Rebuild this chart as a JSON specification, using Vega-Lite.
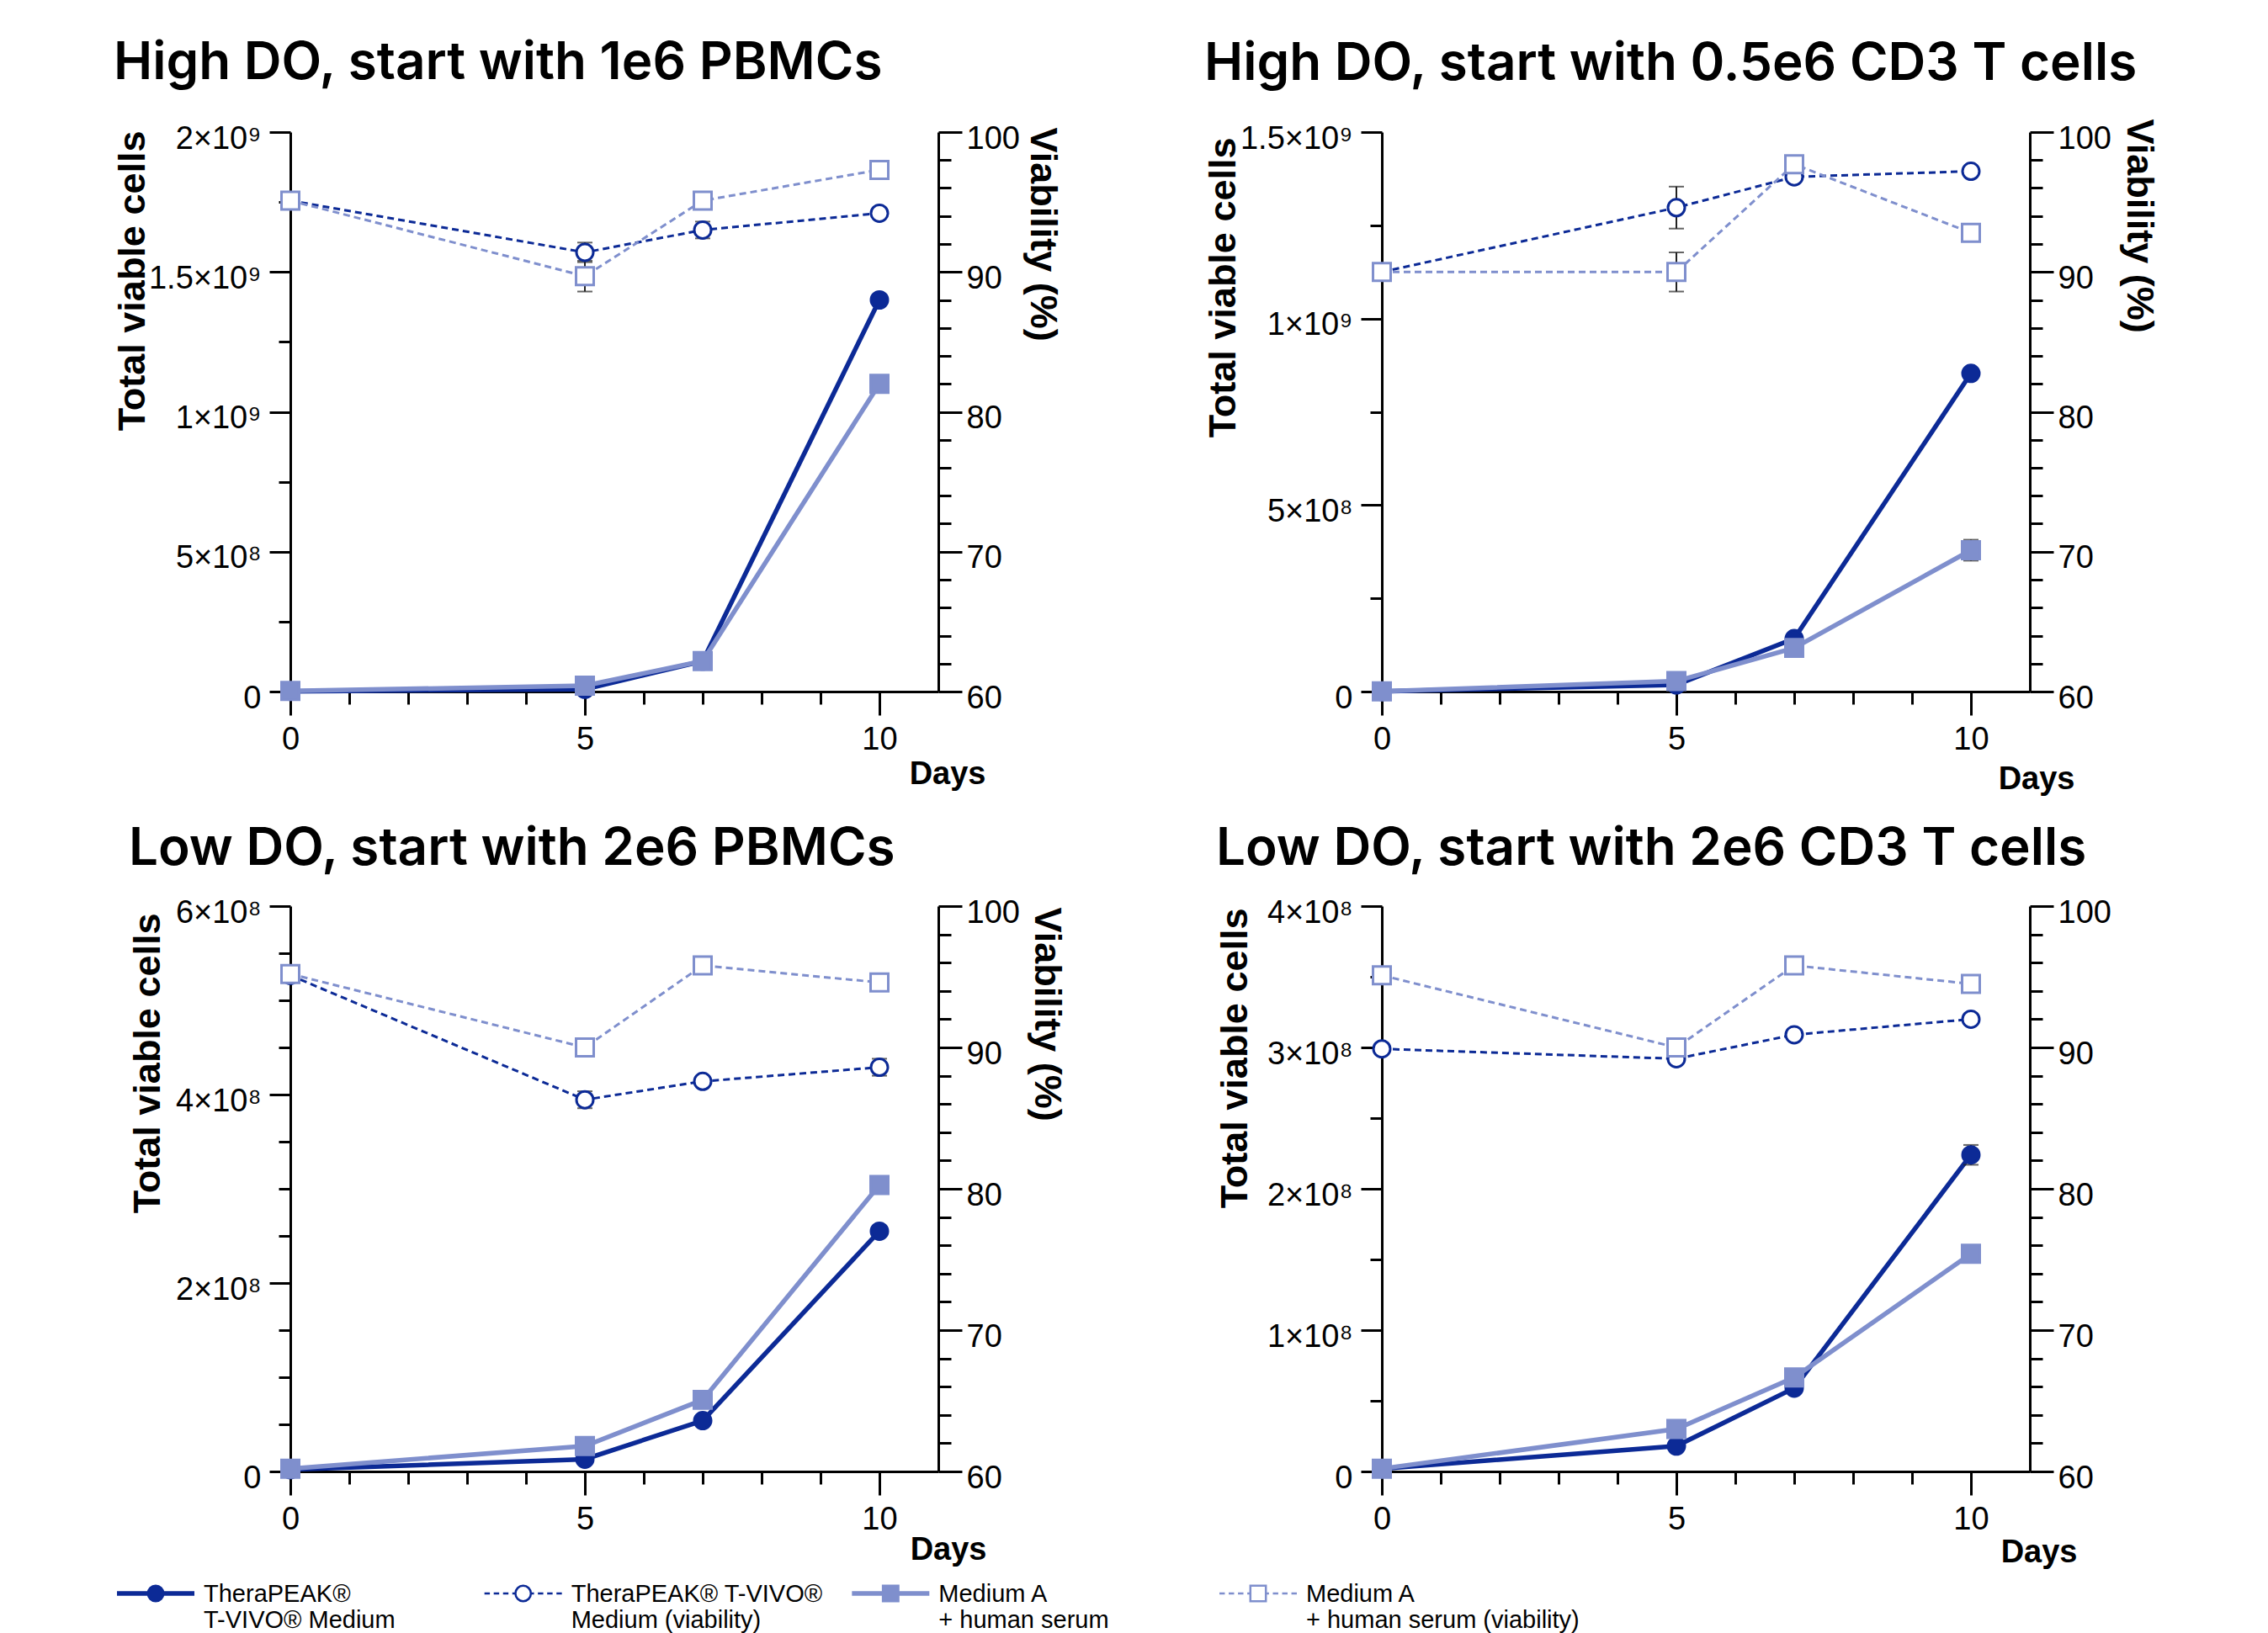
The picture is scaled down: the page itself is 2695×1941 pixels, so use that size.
{
  "$schema": "https://vega.github.io/schema/vega-lite/v6.json",
  "padding": {"left": 134, "top": 44, "right": 0, "bottom": 0},
  "background": "white",
  "datasets": {
    "growth": [
      {"p": 1, "s": "TheraPEAK® T-VIVO® Medium", "m": "cells", "d": 0, "v": 1000000},
      {"p": 1, "s": "TheraPEAK® T-VIVO® Medium", "m": "cells", "d": 5, "v": 8000000},
      {"p": 1, "s": "TheraPEAK® T-VIVO® Medium", "m": "cells", "d": 7, "v": 109000000},
      {"p": 1, "s": "TheraPEAK® T-VIVO® Medium", "m": "cells", "d": 10, "v": 1400000000},
      {"p": 1, "s": "Medium A + human serum", "m": "cells", "d": 0, "v": 2000000},
      {"p": 1, "s": "Medium A + human serum", "m": "cells", "d": 5, "v": 21000000},
      {"p": 1, "s": "Medium A + human serum", "m": "cells", "d": 7, "v": 109000000},
      {"p": 1, "s": "Medium A + human serum", "m": "cells", "d": 10, "v": 1100000000},
      {"p": 1, "s": "TheraPEAK® T-VIVO® Medium (viability)", "m": "viab", "d": 0, "v": 95.1},
      {"p": 1, "s": "TheraPEAK® T-VIVO® Medium (viability)", "m": "viab", "d": 5, "v": 91.4, "lo": 90.7, "hi": 92.1},
      {"p": 1, "s": "TheraPEAK® T-VIVO® Medium (viability)", "m": "viab", "d": 7, "v": 93.0, "lo": 92.4, "hi": 93.6},
      {"p": 1, "s": "TheraPEAK® T-VIVO® Medium (viability)", "m": "viab", "d": 10, "v": 94.2},
      {"p": 1, "s": "Medium A + human serum (viability)", "m": "viab", "d": 0, "v": 95.1},
      {"p": 1, "s": "Medium A + human serum (viability)", "m": "viab", "d": 5, "v": 89.7, "lo": 88.6, "hi": 90.8},
      {"p": 1, "s": "Medium A + human serum (viability)", "m": "viab", "d": 7, "v": 95.1},
      {"p": 1, "s": "Medium A + human serum (viability)", "m": "viab", "d": 10, "v": 97.3},

      {"p": 2, "s": "TheraPEAK® T-VIVO® Medium", "m": "cells", "d": 0, "v": 500000},
      {"p": 2, "s": "TheraPEAK® T-VIVO® Medium", "m": "cells", "d": 5, "v": 18000000},
      {"p": 2, "s": "TheraPEAK® T-VIVO® Medium", "m": "cells", "d": 7, "v": 142000000},
      {"p": 2, "s": "TheraPEAK® T-VIVO® Medium", "m": "cells", "d": 10, "v": 853000000},
      {"p": 2, "s": "Medium A + human serum", "m": "cells", "d": 0, "v": 500000},
      {"p": 2, "s": "Medium A + human serum", "m": "cells", "d": 5, "v": 28000000},
      {"p": 2, "s": "Medium A + human serum", "m": "cells", "d": 7, "v": 117000000},
      {"p": 2, "s": "Medium A + human serum", "m": "cells", "d": 10, "v": 379000000, "lo": 351000000, "hi": 407000000},
      {"p": 2, "s": "TheraPEAK® T-VIVO® Medium (viability)", "m": "viab", "d": 0, "v": 90.0},
      {"p": 2, "s": "TheraPEAK® T-VIVO® Medium (viability)", "m": "viab", "d": 5, "v": 94.6, "lo": 93.1, "hi": 96.1},
      {"p": 2, "s": "TheraPEAK® T-VIVO® Medium (viability)", "m": "viab", "d": 7, "v": 96.8},
      {"p": 2, "s": "TheraPEAK® T-VIVO® Medium (viability)", "m": "viab", "d": 10, "v": 97.2},
      {"p": 2, "s": "Medium A + human serum (viability)", "m": "viab", "d": 0, "v": 90.0},
      {"p": 2, "s": "Medium A + human serum (viability)", "m": "viab", "d": 5, "v": 90.0, "lo": 88.6, "hi": 91.4},
      {"p": 2, "s": "Medium A + human serum (viability)", "m": "viab", "d": 7, "v": 97.7},
      {"p": 2, "s": "Medium A + human serum (viability)", "m": "viab", "d": 10, "v": 92.8},

      {"p": 3, "s": "TheraPEAK® T-VIVO® Medium", "m": "cells", "d": 0, "v": 2000000},
      {"p": 3, "s": "TheraPEAK® T-VIVO® Medium", "m": "cells", "d": 5, "v": 13000000},
      {"p": 3, "s": "TheraPEAK® T-VIVO® Medium", "m": "cells", "d": 7, "v": 54000000},
      {"p": 3, "s": "TheraPEAK® T-VIVO® Medium", "m": "cells", "d": 10, "v": 255000000},
      {"p": 3, "s": "Medium A + human serum", "m": "cells", "d": 0, "v": 3000000},
      {"p": 3, "s": "Medium A + human serum", "m": "cells", "d": 5, "v": 27000000},
      {"p": 3, "s": "Medium A + human serum", "m": "cells", "d": 7, "v": 76000000},
      {"p": 3, "s": "Medium A + human serum", "m": "cells", "d": 10, "v": 304000000},
      {"p": 3, "s": "TheraPEAK® T-VIVO® Medium (viability)", "m": "viab", "d": 0, "v": 95.1},
      {"p": 3, "s": "TheraPEAK® T-VIVO® Medium (viability)", "m": "viab", "d": 5, "v": 86.3, "lo": 85.7, "hi": 86.9},
      {"p": 3, "s": "TheraPEAK® T-VIVO® Medium (viability)", "m": "viab", "d": 7, "v": 87.6},
      {"p": 3, "s": "TheraPEAK® T-VIVO® Medium (viability)", "m": "viab", "d": 10, "v": 88.6, "lo": 88.0, "hi": 89.2},
      {"p": 3, "s": "Medium A + human serum (viability)", "m": "viab", "d": 0, "v": 95.2},
      {"p": 3, "s": "Medium A + human serum (viability)", "m": "viab", "d": 5, "v": 90.0},
      {"p": 3, "s": "Medium A + human serum (viability)", "m": "viab", "d": 7, "v": 95.8},
      {"p": 3, "s": "Medium A + human serum (viability)", "m": "viab", "d": 10, "v": 94.6},

      {"p": 4, "s": "TheraPEAK® T-VIVO® Medium", "m": "cells", "d": 0, "v": 2000000},
      {"p": 4, "s": "TheraPEAK® T-VIVO® Medium", "m": "cells", "d": 5, "v": 18000000},
      {"p": 4, "s": "TheraPEAK® T-VIVO® Medium", "m": "cells", "d": 7, "v": 59000000},
      {"p": 4, "s": "TheraPEAK® T-VIVO® Medium", "m": "cells", "d": 10, "v": 224000000, "lo": 217000000, "hi": 231000000},
      {"p": 4, "s": "Medium A + human serum", "m": "cells", "d": 0, "v": 2000000},
      {"p": 4, "s": "Medium A + human serum", "m": "cells", "d": 5, "v": 30000000},
      {"p": 4, "s": "Medium A + human serum", "m": "cells", "d": 7, "v": 66500000},
      {"p": 4, "s": "Medium A + human serum", "m": "cells", "d": 10, "v": 154000000, "lo": 148000000, "hi": 160000000},
      {"p": 4, "s": "TheraPEAK® T-VIVO® Medium (viability)", "m": "viab", "d": 0, "v": 89.9},
      {"p": 4, "s": "TheraPEAK® T-VIVO® Medium (viability)", "m": "viab", "d": 5, "v": 89.2},
      {"p": 4, "s": "TheraPEAK® T-VIVO® Medium (viability)", "m": "viab", "d": 7, "v": 90.9},
      {"p": 4, "s": "TheraPEAK® T-VIVO® Medium (viability)", "m": "viab", "d": 10, "v": 92.0},
      {"p": 4, "s": "Medium A + human serum (viability)", "m": "viab", "d": 0, "v": 95.1},
      {"p": 4, "s": "Medium A + human serum (viability)", "m": "viab", "d": 5, "v": 90.0},
      {"p": 4, "s": "Medium A + human serum (viability)", "m": "viab", "d": 7, "v": 95.8},
      {"p": 4, "s": "Medium A + human serum (viability)", "m": "viab", "d": 10, "v": 94.5}
    ]
  },
  "data": {"name": "growth"},
  "spacing": 0,
  "vconcat": [
    {
      "bounds": "flush",
      "columns": 2,
      "spacing": {"row": 255, "column": 527},
      "concat": [
        {
          "width": 770, "height": 665,
          "title": {"text": "High DO, start with 1e6 PBMCs", "offset": 39},
          "transform": [{"filter": "datum.p === 1"}],
          "encoding": {
            "x": {"field": "d", "type": "quantitative", "scale": {"domain": [0, 11], "nice": false},
              "axis": {"values": [0, 1, 2, 3, 4, 5, 6, 7, 8, 9, 10], "labelExpr": "datum.value % 5 === 0 ? datum.label : ''",
                "tickSize": {"condition": {"test": "datum.value % 5 === 0", "value": 28}, "value": 15}, "labelPadding": 10,
                "title": "Days", "titleX": 826, "titleY": 98, "titleAlign": "right", "titleBaseline": "middle", "titleFontSize": 38}}
          },
          "layer": [
            {
              "transform": [{"filter": "datum.m === 'cells'"}],
              "encoding": {"y": {"field": "v", "type": "quantitative", "scale": {"domain": [0, 2000000000], "nice": false},
                "axis": {"orient": "left", "values": [0, 250000000, 500000000, 750000000, 1000000000, 1250000000, 1500000000, 1750000000, 2000000000],
                  "labelExpr": "datum.value === 0 ? '0' : datum.value % 500000000 !== 0 ? '' : format(datum.value / pow(10, floor(log(datum.value) / LN10 + 1e-9)), '~g') + '×10' + (floor(log(datum.value) / LN10 + 1e-9) === 9 ? '⁹' : '⁸')",
                  "tickSize": {"condition": {"test": "datum.value % 500000000 === 0", "value": 25}, "value": 14}, "labelPadding": 10, "labelOffset": 8,
                  "title": "Total viable cells", "titleAngle": 270, "titleX": -188, "titleY": -2, "titleAlign": "right", "titleBaseline": "middle", "titleFontSize": 45}}},
              "layer": [
                {"mark": {"type": "line", "strokeWidth": 5.5},
                  "encoding": {"stroke": {"field": "s", "type": "nominal", "legend": null, "scale": {"domain": ["TheraPEAK® T-VIVO® Medium", "TheraPEAK® T-VIVO® Medium (viability)", "Medium A + human serum", "Medium A + human serum (viability)"], "range": ["#0c2a96", "#0c2a96", "#7f8fcd", "#7f8fcd"]}}}},
                {"transform": [{"filter": "isValid(datum.lo)"}],
                  "mark": {"type": "errorbar", "color": "#222", "thickness": 2, "ticks": {"size": 18, "thickness": 2}},
                  "encoding": {"y": {"field": "lo", "type": "quantitative"}, "y2": {"field": "hi"}}},
                {"transform": [{"filter": "substring(datum.s, 0, 5) === 'Thera'"}],
                  "mark": {"type": "point", "shape": "circle", "size": 400, "strokeWidth": 3, "opacity": 1, "filled": true},
                  "encoding": {"fill": {"field": "s", "type": "nominal", "legend": null, "scale": {"domain": ["TheraPEAK® T-VIVO® Medium", "TheraPEAK® T-VIVO® Medium (viability)", "Medium A + human serum", "Medium A + human serum (viability)"], "range": ["#0c2a96", "#ffffff", "#7f8fcd", "#ffffff"]}},
                    "stroke": {"field": "s", "type": "nominal", "legend": null}}},
                {"transform": [{"filter": "substring(datum.s, 0, 5) === 'Mediu'"}],
                  "mark": {"type": "point", "shape": "square", "size": 440, "strokeWidth": 3, "opacity": 1, "filled": true},
                  "encoding": {"fill": {"field": "s", "type": "nominal", "legend": null}, "stroke": {"field": "s", "type": "nominal", "legend": null}}}
              ]
            },
            {
              "transform": [{"filter": "datum.m === 'viab'"}],
              "encoding": {"y": {"field": "v", "type": "quantitative", "scale": {"domain": [60, 100], "nice": false, "zero": false},
                "axis": {"orient": "right", "values": [60, 62, 64, 66, 68, 70, 72, 74, 76, 78, 80, 82, 84, 86, 88, 90, 92, 94, 96, 98, 100],
                  "labelExpr": "datum.value % 10 === 0 ? datum.label : ''",
                  "tickSize": {"condition": {"test": "datum.value % 10 === 0", "value": 28}, "value": 15}, "labelPadding": 5, "labelOffset": 8,
                  "title": "Viability (%)", "titleAngle": 90, "titleX": 123, "titleY": -6, "titleAlign": "left", "titleBaseline": "middle", "titleFontSize": 45}}},
              "layer": [
                {"mark": {"type": "line", "strokeWidth": 3, "strokeDash": [8, 5]},
                  "encoding": {"stroke": {"field": "s", "type": "nominal", "legend": null}}},
                {"transform": [{"filter": "isValid(datum.lo)"}],
                  "mark": {"type": "errorbar", "color": "#222", "thickness": 2, "ticks": {"size": 18, "thickness": 2}},
                  "encoding": {"y": {"field": "lo", "type": "quantitative"}, "y2": {"field": "hi"}}},
                {"transform": [{"filter": "substring(datum.s, 0, 5) === 'Thera'"}],
                  "mark": {"type": "point", "shape": "circle", "size": 400, "strokeWidth": 3, "opacity": 1, "filled": true},
                  "encoding": {"fill": {"field": "s", "type": "nominal", "legend": null}, "stroke": {"field": "s", "type": "nominal", "legend": null}}},
                {"transform": [{"filter": "substring(datum.s, 0, 5) === 'Mediu'"}],
                  "mark": {"type": "point", "shape": "square", "size": 440, "strokeWidth": 3, "opacity": 1, "filled": true},
                  "encoding": {"fill": {"field": "s", "type": "nominal", "legend": null}, "stroke": {"field": "s", "type": "nominal", "legend": null}}}
              ]
            }
          ],
          "resolve": {"scale": {"y": "independent"}}
        },
        {
          "width": 770, "height": 665,
          "title": {"text": "High DO, start with 0.5e6 CD3 T cells", "offset": 33},
          "transform": [{"filter": "datum.p === 2"}],
          "encoding": {
            "x": {"field": "d", "type": "quantitative", "scale": {"domain": [0, 11], "nice": false},
              "axis": {"values": [0, 1, 2, 3, 4, 5, 6, 7, 8, 9, 10], "labelExpr": "datum.value % 5 === 0 ? datum.label : ''",
                "tickSize": {"condition": {"test": "datum.value % 5 === 0", "value": 28}, "value": 15}, "labelPadding": 10,
                "title": "Days", "titleX": 823, "titleY": 104, "titleAlign": "right", "titleBaseline": "middle", "titleFontSize": 38}}
          },
          "layer": [
            {
              "transform": [{"filter": "datum.m === 'cells'"}],
              "encoding": {"y": {"field": "v", "type": "quantitative", "scale": {"domain": [0, 1500000000], "nice": false},
                "axis": {"orient": "left", "values": [0, 250000000, 500000000, 750000000, 1000000000, 1250000000, 1500000000],
                  "labelExpr": "datum.value === 0 ? '0' : datum.value % 500000000 !== 0 ? '' : format(datum.value / pow(10, floor(log(datum.value) / LN10 + 1e-9)), '~g') + '×10' + (floor(log(datum.value) / LN10 + 1e-9) === 9 ? '⁹' : '⁸')",
                  "tickSize": {"condition": {"test": "datum.value % 500000000 === 0", "value": 25}, "value": 14}, "labelPadding": 10, "labelOffset": 8,
                  "title": "Total viable cells", "titleAngle": 270, "titleX": -189, "titleY": 6, "titleAlign": "right", "titleBaseline": "middle", "titleFontSize": 45}}},
              "layer": [
                {"mark": {"type": "line", "strokeWidth": 5.5},
                  "encoding": {"stroke": {"field": "s", "type": "nominal", "legend": null}}},
                {"transform": [{"filter": "isValid(datum.lo)"}],
                  "mark": {"type": "errorbar", "color": "#222", "thickness": 2, "ticks": {"size": 18, "thickness": 2}},
                  "encoding": {"y": {"field": "lo", "type": "quantitative"}, "y2": {"field": "hi"}}},
                {"transform": [{"filter": "substring(datum.s, 0, 5) === 'Thera'"}],
                  "mark": {"type": "point", "shape": "circle", "size": 400, "strokeWidth": 3, "opacity": 1, "filled": true},
                  "encoding": {"fill": {"field": "s", "type": "nominal", "legend": null}, "stroke": {"field": "s", "type": "nominal", "legend": null}}},
                {"transform": [{"filter": "substring(datum.s, 0, 5) === 'Mediu'"}],
                  "mark": {"type": "point", "shape": "square", "size": 440, "strokeWidth": 3, "opacity": 1, "filled": true},
                  "encoding": {"fill": {"field": "s", "type": "nominal", "legend": null}, "stroke": {"field": "s", "type": "nominal", "legend": null}}}
              ]
            },
            {
              "transform": [{"filter": "datum.m === 'viab'"}],
              "encoding": {"y": {"field": "v", "type": "quantitative", "scale": {"domain": [60, 100], "nice": false, "zero": false},
                "axis": {"orient": "right", "values": [60, 62, 64, 66, 68, 70, 72, 74, 76, 78, 80, 82, 84, 86, 88, 90, 92, 94, 96, 98, 100],
                  "labelExpr": "datum.value % 10 === 0 ? datum.label : ''",
                  "tickSize": {"condition": {"test": "datum.value % 10 === 0", "value": 28}, "value": 15}, "labelPadding": 5, "labelOffset": 8,
                  "title": "Viability (%)", "titleAngle": 90, "titleX": 129, "titleY": -16, "titleAlign": "left", "titleBaseline": "middle", "titleFontSize": 45}}},
              "layer": [
                {"mark": {"type": "line", "strokeWidth": 3, "strokeDash": [8, 5]},
                  "encoding": {"stroke": {"field": "s", "type": "nominal", "legend": null}}},
                {"transform": [{"filter": "isValid(datum.lo)"}],
                  "mark": {"type": "errorbar", "color": "#222", "thickness": 2, "ticks": {"size": 18, "thickness": 2}},
                  "encoding": {"y": {"field": "lo", "type": "quantitative"}, "y2": {"field": "hi"}}},
                {"transform": [{"filter": "substring(datum.s, 0, 5) === 'Thera'"}],
                  "mark": {"type": "point", "shape": "circle", "size": 400, "strokeWidth": 3, "opacity": 1, "filled": true},
                  "encoding": {"fill": {"field": "s", "type": "nominal", "legend": null}, "stroke": {"field": "s", "type": "nominal", "legend": null}}},
                {"transform": [{"filter": "substring(datum.s, 0, 5) === 'Mediu'"}],
                  "mark": {"type": "point", "shape": "square", "size": 440, "strokeWidth": 3, "opacity": 1, "filled": true},
                  "encoding": {"fill": {"field": "s", "type": "nominal", "legend": null}, "stroke": {"field": "s", "type": "nominal", "legend": null}}}
              ]
            }
          ],
          "resolve": {"scale": {"y": "independent"}}
        },
        {
          "width": 770, "height": 672,
          "title": {"text": "Low DO, start with 2e6 PBMCs", "offset": 25},
          "transform": [{"filter": "datum.p === 3"}],
          "encoding": {
            "x": {"field": "d", "type": "quantitative", "scale": {"domain": [0, 11], "nice": false},
              "axis": {"values": [0, 1, 2, 3, 4, 5, 6, 7, 8, 9, 10], "labelExpr": "datum.value % 5 === 0 ? datum.label : ''",
                "tickSize": {"condition": {"test": "datum.value % 5 === 0", "value": 28}, "value": 15}, "labelPadding": 10,
                "title": "Days", "titleX": 827, "titleY": 93, "titleAlign": "right", "titleBaseline": "middle", "titleFontSize": 38}}
          },
          "layer": [
            {
              "transform": [{"filter": "datum.m === 'cells'"}],
              "encoding": {"y": {"field": "v", "type": "quantitative", "scale": {"domain": [0, 600000000], "nice": false},
                "axis": {"orient": "left", "values": [0, 50000000, 100000000, 150000000, 200000000, 250000000, 300000000, 350000000, 400000000, 450000000, 500000000, 550000000, 600000000],
                  "labelExpr": "datum.value === 0 ? '0' : datum.value % 200000000 !== 0 ? '' : format(datum.value / pow(10, floor(log(datum.value) / LN10 + 1e-9)), '~g') + '×10' + (floor(log(datum.value) / LN10 + 1e-9) === 9 ? '⁹' : '⁸')",
                  "tickSize": {"condition": {"test": "datum.value % 200000000 === 0", "value": 25}, "value": 14}, "labelPadding": 10, "labelOffset": 8,
                  "title": "Total viable cells", "titleAngle": 270, "titleX": -170, "titleY": 8, "titleAlign": "right", "titleBaseline": "middle", "titleFontSize": 45}}},
              "layer": [
                {"mark": {"type": "line", "strokeWidth": 5.5},
                  "encoding": {"stroke": {"field": "s", "type": "nominal", "legend": null}}},
                {"transform": [{"filter": "isValid(datum.lo)"}],
                  "mark": {"type": "errorbar", "color": "#222", "thickness": 2, "ticks": {"size": 18, "thickness": 2}},
                  "encoding": {"y": {"field": "lo", "type": "quantitative"}, "y2": {"field": "hi"}}},
                {"transform": [{"filter": "substring(datum.s, 0, 5) === 'Thera'"}],
                  "mark": {"type": "point", "shape": "circle", "size": 400, "strokeWidth": 3, "opacity": 1, "filled": true},
                  "encoding": {"fill": {"field": "s", "type": "nominal", "legend": null}, "stroke": {"field": "s", "type": "nominal", "legend": null}}},
                {"transform": [{"filter": "substring(datum.s, 0, 5) === 'Mediu'"}],
                  "mark": {"type": "point", "shape": "square", "size": 440, "strokeWidth": 3, "opacity": 1, "filled": true},
                  "encoding": {"fill": {"field": "s", "type": "nominal", "legend": null}, "stroke": {"field": "s", "type": "nominal", "legend": null}}}
              ]
            },
            {
              "transform": [{"filter": "datum.m === 'viab'"}],
              "encoding": {"y": {"field": "v", "type": "quantitative", "scale": {"domain": [60, 100], "nice": false, "zero": false},
                "axis": {"orient": "right", "values": [60, 62, 64, 66, 68, 70, 72, 74, 76, 78, 80, 82, 84, 86, 88, 90, 92, 94, 96, 98, 100],
                  "labelExpr": "datum.value % 10 === 0 ? datum.label : ''",
                  "tickSize": {"condition": {"test": "datum.value % 10 === 0", "value": 28}, "value": 15}, "labelPadding": 5, "labelOffset": 8,
                  "title": "Viability (%)", "titleAngle": 90, "titleX": 128, "titleY": 1, "titleAlign": "left", "titleBaseline": "middle", "titleFontSize": 45}}},
              "layer": [
                {"mark": {"type": "line", "strokeWidth": 3, "strokeDash": [8, 5]},
                  "encoding": {"stroke": {"field": "s", "type": "nominal", "legend": null}}},
                {"transform": [{"filter": "isValid(datum.lo)"}],
                  "mark": {"type": "errorbar", "color": "#222", "thickness": 2, "ticks": {"size": 18, "thickness": 2}},
                  "encoding": {"y": {"field": "lo", "type": "quantitative"}, "y2": {"field": "hi"}}},
                {"transform": [{"filter": "substring(datum.s, 0, 5) === 'Thera'"}],
                  "mark": {"type": "point", "shape": "circle", "size": 400, "strokeWidth": 3, "opacity": 1, "filled": true},
                  "encoding": {"fill": {"field": "s", "type": "nominal", "legend": null}, "stroke": {"field": "s", "type": "nominal", "legend": null}}},
                {"transform": [{"filter": "substring(datum.s, 0, 5) === 'Mediu'"}],
                  "mark": {"type": "point", "shape": "square", "size": 440, "strokeWidth": 3, "opacity": 1, "filled": true},
                  "encoding": {"fill": {"field": "s", "type": "nominal", "legend": null}, "stroke": {"field": "s", "type": "nominal", "legend": null}}}
              ]
            }
          ],
          "resolve": {"scale": {"y": "independent"}}
        },
        {
          "width": 770, "height": 672,
          "title": {"text": "Low DO, start with 2e6 CD3 T cells", "offset": 25},
          "transform": [{"filter": "datum.p === 4"}],
          "encoding": {
            "x": {"field": "d", "type": "quantitative", "scale": {"domain": [0, 11], "nice": false},
              "axis": {"values": [0, 1, 2, 3, 4, 5, 6, 7, 8, 9, 10], "labelExpr": "datum.value % 5 === 0 ? datum.label : ''",
                "tickSize": {"condition": {"test": "datum.value % 5 === 0", "value": 28}, "value": 15}, "labelPadding": 10,
                "title": "Days", "titleX": 826, "titleY": 96, "titleAlign": "right", "titleBaseline": "middle", "titleFontSize": 38}}
          },
          "layer": [
            {
              "transform": [{"filter": "datum.m === 'cells'"}],
              "encoding": {"y": {"field": "v", "type": "quantitative", "scale": {"domain": [0, 400000000], "nice": false},
                "axis": {"orient": "left", "values": [0, 50000000, 100000000, 150000000, 200000000, 250000000, 300000000, 350000000, 400000000],
                  "labelExpr": "datum.value === 0 ? '0' : datum.value % 100000000 !== 0 ? '' : format(datum.value / pow(10, floor(log(datum.value) / LN10 + 1e-9)), '~g') + '×10' + (floor(log(datum.value) / LN10 + 1e-9) === 9 ? '⁹' : '⁸')",
                  "tickSize": {"condition": {"test": "datum.value % 100000000 === 0", "value": 25}, "value": 14}, "labelPadding": 10, "labelOffset": 8,
                  "title": "Total viable cells", "titleAngle": 270, "titleX": -175, "titleY": 2, "titleAlign": "right", "titleBaseline": "middle", "titleFontSize": 45}}},
              "layer": [
                {"mark": {"type": "line", "strokeWidth": 5.5},
                  "encoding": {"stroke": {"field": "s", "type": "nominal", "legend": null}}},
                {"transform": [{"filter": "isValid(datum.lo)"}],
                  "mark": {"type": "errorbar", "color": "#222", "thickness": 2, "ticks": {"size": 18, "thickness": 2}},
                  "encoding": {"y": {"field": "lo", "type": "quantitative"}, "y2": {"field": "hi"}}},
                {"transform": [{"filter": "substring(datum.s, 0, 5) === 'Thera'"}],
                  "mark": {"type": "point", "shape": "circle", "size": 400, "strokeWidth": 3, "opacity": 1, "filled": true},
                  "encoding": {"fill": {"field": "s", "type": "nominal", "legend": null}, "stroke": {"field": "s", "type": "nominal", "legend": null}}},
                {"transform": [{"filter": "substring(datum.s, 0, 5) === 'Mediu'"}],
                  "mark": {"type": "point", "shape": "square", "size": 440, "strokeWidth": 3, "opacity": 1, "filled": true},
                  "encoding": {"fill": {"field": "s", "type": "nominal", "legend": null}, "stroke": {"field": "s", "type": "nominal", "legend": null}}}
              ]
            },
            {
              "transform": [{"filter": "datum.m === 'viab'"}],
              "encoding": {"y": {"field": "v", "type": "quantitative", "scale": {"domain": [60, 100], "nice": false, "zero": false},
                "axis": {"orient": "right", "values": [60, 62, 64, 66, 68, 70, 72, 74, 76, 78, 80, 82, 84, 86, 88, 90, 92, 94, 96, 98, 100],
                  "labelExpr": "datum.value % 10 === 0 ? datum.label : ''",
                  "tickSize": {"condition": {"test": "datum.value % 10 === 0", "value": 28}, "value": 15}, "labelPadding": 5, "labelOffset": 8,
                  "title": null}}},
              "layer": [
                {"mark": {"type": "line", "strokeWidth": 3, "strokeDash": [8, 5]},
                  "encoding": {"stroke": {"field": "s", "type": "nominal", "legend": null}}},
                {"transform": [{"filter": "isValid(datum.lo)"}],
                  "mark": {"type": "errorbar", "color": "#222", "thickness": 2, "ticks": {"size": 18, "thickness": 2}},
                  "encoding": {"y": {"field": "lo", "type": "quantitative"}, "y2": {"field": "hi"}}},
                {"transform": [{"filter": "substring(datum.s, 0, 5) === 'Thera'"}],
                  "mark": {"type": "point", "shape": "circle", "size": 400, "strokeWidth": 3, "opacity": 1, "filled": true},
                  "encoding": {"fill": {"field": "s", "type": "nominal", "legend": null}, "stroke": {"field": "s", "type": "nominal", "legend": null}}},
                {"transform": [{"filter": "substring(datum.s, 0, 5) === 'Mediu'"}],
                  "mark": {"type": "point", "shape": "square", "size": 440, "strokeWidth": 3, "opacity": 1, "filled": true},
                  "encoding": {"fill": {"field": "s", "type": "nominal", "legend": null}, "stroke": {"field": "s", "type": "nominal", "legend": null}}}
              ]
            }
          ],
          "resolve": {"scale": {"y": "independent"}}
        }
      ]
    },
    {
      "width": 1420, "height": 60,
      "transform": [
        {"filter": "datum.p === 1 && datum.d === 0"},
        {"calculate": "datum.s === 'TheraPEAK® T-VIVO® Medium' ? ['TheraPEAK®', 'T-VIVO® Medium'] : datum.s === 'TheraPEAK® T-VIVO® Medium (viability)' ? ['TheraPEAK® T-VIVO®', 'Medium (viability)'] : datum.s === 'Medium A + human serum' ? ['Medium A', '+ human serum'] : ['Medium A', '+ human serum (viability)']", "as": "lab"}
      ],
      "encoding": {
        "x": {"field": "s", "type": "nominal", "axis": null,
          "scale": {"type": "point", "padding": 0, "domain": ["TheraPEAK® T-VIVO® Medium", "TheraPEAK® T-VIVO® Medium (viability)", "Medium A + human serum", "Medium A + human serum (viability)"], "range": [-160, 1150]}}
      },
      "layer": [
        {"mark": {"type": "point", "size": 8464, "strokeWidth": 2.5, "opacity": 1, "filled": false},
          "encoding": {
            "shape": {"field": "s", "type": "nominal", "legend": null,
              "scale": {"domain": ["TheraPEAK® T-VIVO® Medium", "TheraPEAK® T-VIVO® Medium (viability)", "Medium A + human serum", "Medium A + human serum (viability)"],
                "range": [
                  "M-1,-0.03H1M-1,0H1M-1,0.03H1M-0.2,0A0.2,0.2 0 1,0 0.2,0A0.2,0.2 0 1,0 -0.2,0M-0.155,0A0.155,0.155 0 1,0 0.155,0A0.155,0.155 0 1,0 -0.155,0M-0.11,0A0.11,0.11 0 1,0 0.11,0A0.11,0.11 0 1,0 -0.11,0M-0.065,0A0.065,0.065 0 1,0 0.065,0A0.065,0.065 0 1,0 -0.065,0M-0.025,0A0.025,0.025 0 1,0 0.025,0A0.025,0.025 0 1,0 -0.025,0",
                  "M-1,0H-0.86M-0.76,0H-0.62M-0.52,0H-0.38M-0.28,0H-0.2M0.2,0H0.28M0.38,0H0.52M0.62,0H0.76M0.86,0H1M-0.2,0A0.2,0.2 0 1,0 0.2,0A0.2,0.2 0 1,0 -0.2,0",
                  "M-1,-0.03H1M-1,0H1M-1,0.03H1M-0.2,-0.2H0.2V0.2H-0.2ZM-0.155,-0.155H0.155V0.155H-0.155ZM-0.11,-0.11H0.11V0.11H-0.11ZM-0.065,-0.065H0.065V0.065H-0.065ZM-0.02,-0.02H0.02V0.02H-0.02Z",
                  "M-1,0H-0.86M-0.76,0H-0.62M-0.52,0H-0.38M-0.28,0H-0.2M0.2,0H0.28M0.38,0H0.52M0.62,0H0.76M0.86,0H1M-0.2,-0.2H0.2V0.2H-0.2Z"
                ]}},
            "stroke": {"field": "s", "type": "nominal", "legend": null}
          }},
        {"mark": {"type": "text", "align": "left", "baseline": "alphabetic", "dx": 57, "dy": 10, "fontSize": 29, "lineHeight": 31, "font": "Liberation Sans", "color": "#000"},
          "encoding": {"text": {"field": "lab"}}}
      ]
    }
  ],
  "config": {
    "view": {"stroke": null},
    "font": "Liberation Sans",
    "title": {"anchor": "start", "frame": "bounds", "font": "Inter", "fontSize": 62, "fontWeight": 600, "color": "#000"},
    "axis": {"grid": false, "domainColor": "#000", "domainWidth": 3, "tickColor": "#000", "tickWidth": 3,
      "labelFont": "Liberation Sans", "labelFontSize": 38, "labelColor": "#000", "labelFlush": false, "labelOverlap": false,
      "titleFont": "Liberation Sans", "titleFontWeight": "bold", "titleColor": "#000"}
  }
}
